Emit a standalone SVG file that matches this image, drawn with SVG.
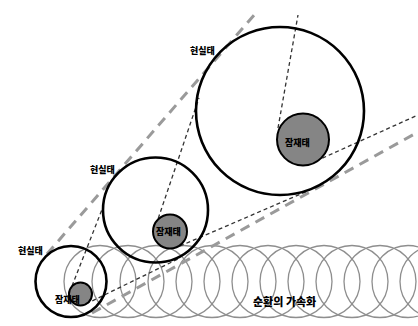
<svg xmlns="http://www.w3.org/2000/svg" width="418" height="326" viewBox="0 0 418 326">
<style>
.spring{fill:none;stroke:#8e8e8e;stroke-width:1.3}
.outer{fill:none;stroke:#000;stroke-width:2.6}
.inner{fill:#858585;stroke:#000;stroke-width:2}
.short{stroke:#333;stroke-width:1.3;stroke-dasharray:4 3;fill:none}
.long{stroke:#9a9a9a;stroke-width:3;stroke-dasharray:10 7;fill:none}
.lbl{font-family:"Noto Sans CJK KR","Noto Sans",sans-serif;font-weight:900;fill:#000}
</style>
<rect width="418" height="326" fill="#fff"/>
<g id="spring">
<circle class="spring" cx="100" cy="281.5" r="36"/>
<circle class="spring" cx="128" cy="281.5" r="36"/>
<circle class="spring" cx="156" cy="281.5" r="36"/>
<circle class="spring" cx="184" cy="281.5" r="36"/>
<circle class="spring" cx="212" cy="281.5" r="36"/>
<circle class="spring" cx="240" cy="281.5" r="36"/>
<circle class="spring" cx="268" cy="281.5" r="36"/>
<circle class="spring" cx="296" cy="281.5" r="36"/>
<circle class="spring" cx="324" cy="281.5" r="36"/>
<circle class="spring" cx="352" cy="281.5" r="36"/>
<circle class="spring" cx="380" cy="281.5" r="36"/>
<circle class="spring" cx="408" cy="281.5" r="36"/>
<circle class="spring" cx="436" cy="281.5" r="36"/>
</g>
<g id="connectors">
<line class="long" x1="47" y1="254" x2="255" y2="14"/>
<line class="long" x1="92" y1="313" x2="418" y2="132"/>
<line class="short" x1="72" y1="286" x2="103" y2="207"/>
<line class="short" x1="156" y1="225" x2="199" y2="98"/>
<line class="short" x1="278" y1="128" x2="298" y2="15"/>
<line class="short" x1="86" y1="304" x2="180" y2="258"/>
<line class="short" x1="180" y1="246" x2="310" y2="190"/>
<line class="short" x1="316" y1="161" x2="418" y2="115"/>
</g>
<g id="small">
<circle class="outer" cx="71" cy="281.5" r="35.5"/>
<text class="lbl" x="18" y="254" font-size="9">현실태</text>
</g>
<g id="small-core">
<circle class="inner" cx="80.5" cy="294" r="11.5"/>
<text class="lbl" x="55" y="303" font-size="9">잠재태</text>
</g>
<g id="medium">
<circle class="outer" cx="155.5" cy="210" r="52.5"/>
<text class="lbl" x="90" y="173" font-size="9">현실태</text>
</g>
<g id="medium-core">
<circle class="inner" cx="170" cy="231.5" r="17"/>
<text class="lbl" x="156" y="235" font-size="9">잠재태</text>
</g>
<g id="large">
<circle class="outer" cx="280" cy="111" r="84"/>
<text class="lbl" x="190" y="54" font-size="9">현실태</text>
</g>
<g id="large-core">
<circle class="inner" cx="303" cy="139.5" r="26"/>
<text class="lbl" x="285" y="146" font-size="9">잠재태</text>
</g>
<g id="caption">
<text class="lbl" x="253" y="306" font-size="11">순환의 가속화</text>
</g>
</svg>
